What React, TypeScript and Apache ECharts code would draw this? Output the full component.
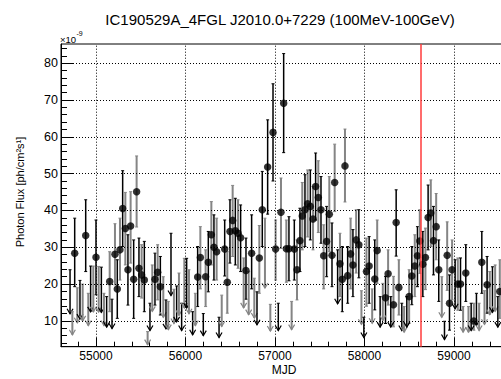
import React, { useEffect, useRef } from "react";
import * as echarts from "echarts";

const TITLE = "IC190529A_4FGL J2010.0+7229 (100MeV-100GeV)";
const Y_NAME = "Photon Flux [ph/cm\u00b2s\u00b9]";
const X_NAME = "MJD";
const X_TICKS = [55000, 56000, 57000, 58000, 59000];
const Y_TICKS = [10, 20, 30, 40, 50, 60, 70, 80];
const EVENT_MJD = 58630;

// detections: MJD, flux (1e-9), upper and lower ends of the error bar
const detMjd = [54762, 54885, 55000, 55153, 55212, 55238, 55268, 55298, 55328, 55357, 55387, 55421, 55454, 55480, 55510, 55540, 55659, 55689, 55719, 56136, 56166, 56225, 56255, 56289, 56318, 56348, 56438, 56467, 56497, 56527, 56557, 56587, 56616, 56676, 56739, 56825, 56858, 56918, 56978, 57007, 57067, 57097, 57127, 57156, 57216, 57246, 57279, 57305, 57335, 57365, 57395, 57425, 57454, 57484, 57514, 57544, 57577, 57607, 57637, 57667, 57726, 57752, 57782, 57812, 57845, 57871, 57907, 57937, 58022, 58052, 58115, 58142, 58235, 58264, 58324, 58354, 58384, 58499, 58529, 58562, 58592, 58618, 58652, 58681, 58711, 58741, 58771, 58801, 58830, 58924, 58950, 58979, 59043, 59073, 59132, 59222, 59311, 59370, 59512];
const detFlux = [28.4, 33.2, 27.3, 20.7, 28.1, 18.7, 29.3, 40.5, 35.1, 23.9, 35.8, 21.3, 45.1, 24.3, 22.5, 21.1, 21.3, 23.2, 19.3, 21.9, 27.2, 22.0, 25.9, 33.4, 30.0, 28.8, 29.5, 20.5, 34.3, 37.3, 34.5, 33.8, 32.6, 23.7, 28.4, 27.1, 40.2, 51.8, 61.2, 29.5, 39.5, 69.1, 29.6, 29.6, 29.5, 23.9, 31.8, 38.5, 40.2, 41.8, 41.1, 37.7, 46.5, 43.5, 40.2, 27.7, 31.6, 39.0, 27.8, 47.6, 25.5, 21.3, 52.1, 22.3, 28.2, 25.2, 32.0, 30.7, 23.4, 24.9, 21.4, 29.1, 16.3, 22.8, 14.4, 36.7, 19.1, 16.6, 22.2, 24.9, 27.7, 31.7, 25.4, 27.2, 38.1, 39.3, 31.8, 35.6, 23.9, 27.8, 14.8, 23.9, 20.0, 20.0, 23.0, 10.0, 25.9, 19.8, 18.0];
const detHigh = [37.9, 42.9, 37.4, 28.8, 36.4, 26.6, 37.9, 50.8, 44.9, 33.4, 45.1, 32.0, 54.8, 32.5, 30.7, 31.6, 28.4, 30.7, 27.5, 30.2, 35.6, 29.3, 34.3, 42.4, 38.8, 37.9, 37.4, 28.8, 42.9, 46.8, 43.3, 42.9, 41.5, 32.5, 38.8, 35.9, 50.6, 64.6, 74.4, 37.4, 48.8, 82.6, 37.4, 38.3, 37.4, 32.0, 40.6, 47.6, 49.7, 51.0, 51.0, 46.5, 55.6, 53.5, 49.2, 36.1, 41.1, 49.2, 36.6, 58.0, 33.8, 30.2, 62.1, 30.2, 37.9, 34.8, 40.2, 40.2, 32.5, 32.9, 32.0, 37.4, 22.1, 29.3, 22.1, 45.6, 26.6, 23.9, 30.2, 33.4, 35.6, 40.2, 34.3, 35.2, 46.9, 48.3, 41.1, 44.6, 32.0, 36.9, 22.5, 32.0, 27.1, 27.1, 30.7, 14.8, 34.3, 27.5, 26.6];
const detLow = [19.3, 23.4, 17.1, 12.5, 19.8, 10.7, 21.1, 30.2, 25.2, 14.3, 25.7, 10.7, 35.5, 16.6, 16.2, 12.5, 14.3, 15.7, 11.6, 13.9, 18.7, 13.9, 17.9, 25.2, 21.1, 21.1, 22.2, 12.1, 25.7, 27.5, 25.2, 24.3, 23.4, 15.9, 18.7, 17.5, 30.2, 39.0, 48.0, 21.1, 29.7, 55.7, 20.5, 20.9, 21.1, 15.7, 23.4, 29.3, 30.2, 32.8, 32.0, 29.3, 37.4, 34.0, 31.1, 18.7, 22.0, 28.8, 19.3, 39.7, 16.6, 12.5, 42.3, 14.8, 18.7, 16.6, 23.0, 21.7, 14.0, 14.8, 13.0, 20.2, 9.3, 14.3, 8.4, 27.6, 11.6, 9.3, 14.4, 16.6, 19.3, 22.9, 16.6, 18.5, 29.3, 30.2, 22.5, 26.6, 15.3, 18.3, 7.5, 15.7, 12.9, 12.9, 15.3, 7.5, 17.5, 12.1, 10.7];

// upper limits: MJD, flux upper limit (1e-9)
const ulMjd = [54710, 54736, 54791, 54821, 54851, 54914, 54940, 54970, 55030, 55060, 55089, 55119, 55179, 55577, 55603, 55629, 55752, 55782, 55808, 55838, 55871, 55901, 55927, 55957, 55987, 56013, 56039, 56080, 56110, 56199, 56375, 56405, 56650, 56706, 56769, 56799, 56888, 56948, 57037, 57186, 57700, 57966, 57993, 58086, 58175, 58205, 58294, 58417, 58443, 58473, 58864, 58894, 59013, 59102, 59162, 59192, 59251, 59281, 59341, 59400, 59430, 59460, 59490];
const ulFlux = [23.9, 12.5, 19.0, 21.0, 20.0, 17.5, 24.9, 24.9, 24.8, 24.6, 17.5, 16.6, 15.9, 7.1, 14.8, 25.2, 22.0, 15.7, 15.3, 33.8, 18.6, 19.5, 23.0, 14.8, 27.0, 27.0, 23.9, 12.5, 17.5, 12.0, 11.0, 17.0, 27.1, 23.4, 21.6, 17.9, 37.9, 14.5, 14.8, 15.3, 29.3, 18.2, 11.0, 18.7, 16.6, 20.2, 16.6, 14.8, 13.9, 16.6, 22.0, 9.9, 26.6, 13.9, 13.9, 14.8, 17.5, 14.8, 18.2, 23.4, 24.7, 25.2, 16.6];

const XMIN = 54609;
const XMAX = 59626;
const YMIN = 3.0;
const YMAX = 85.2;

const FONT = "'Liberation Sans', Arial, Helvetica, sans-serif";
const BLACK = "#000000";
const GREY = "#858585";

function steps(a: number, b: number, s: number) {
  const out: number[] = [];
  for (let v = a; v <= b + 1e-9; v += s) out.push(Math.round(v * 1000) / 1000);
  return out;
}

export default function App() {
  const ref = useRef<HTMLDivElement>(null);
  useEffect(() => {
    if (!ref.current) return;
    const chart = echarts.init(ref.current, undefined, { renderer: "svg" });

    // alternate bar shades through all bins in time order
    const all = [
      ...detMjd.map((m, i) => ({ m, k: "d", i })),
      ...ulMjd.map((m, i) => ({ m, k: "u", i })),
    ].sort((a, b) => a.m - b.m);
    const detShade: number[] = new Array(detMjd.length).fill(0);
    const ulShade: number[] = new Array(ulMjd.length).fill(0);
    all.forEach((e, j) => {
      if (e.k === "d") detShade[e.i] = j % 2;
      else ulShade[e.i] = j % 2;
    });

    const detData = detMjd.map((m, i) => [m, detFlux[i], detHigh[i], detLow[i], detShade[i]]);
    const ulData = ulMjd.map((m, i) => [m, ulFlux[i], ulShade[i]]);
    const pointData = detMjd.map((m, i) => [m, detFlux[i]]);

    const xMinor = steps(54800, 59600, 200);
    const yMinor = steps(4, 84, 2);

    const option: any = {
      animation: false,
      backgroundColor: "#fff",
      grid: {
        left: 61,
        top: 44,
        width: 449,
        height: 302.7,
        show: true,
        borderColor: "#000",
        borderWidth: 1,
        backgroundColor: "transparent",
      },
      xAxis: [
        {
          type: "value",
          min: XMIN,
          max: XMAX,
          position: "bottom",
          axisLine: { show: true, onZero: false, lineStyle: { color: "#000", width: 1 } },
          axisTick: { show: true, inside: true, length: 9, customValues: X_TICKS, lineStyle: { color: "#000", width: 1 } },
          axisLabel: {
            show: true,
            customValues: X_TICKS,
            margin: 3,
            lineHeight: 12,
            formatter: (v: number) => String(Math.round(v)),
            color: "#000",
            fontFamily: FONT,
            fontSize: 12,
          },
          splitLine: { show: false },
        },
        {
          type: "value",
          min: XMIN,
          max: XMAX,
          position: "bottom",
          axisLine: { show: false },
          axisTick: { show: true, inside: true, length: 5, customValues: xMinor, lineStyle: { color: "#000", width: 1 } },
          axisLabel: { show: false },
          splitLine: { show: false },
        },
      ],
      yAxis: [
        {
          type: "value",
          min: YMIN,
          max: YMAX,
          position: "left",
          axisLine: { show: true, onZero: false, lineStyle: { color: "#000", width: 1 } },
          axisTick: { show: true, inside: true, length: 12, customValues: Y_TICKS, lineStyle: { color: "#000", width: 1 } },
          axisLabel: {
            show: true,
            customValues: Y_TICKS,
            margin: 3,
            formatter: (v: number) => String(Math.round(v)),
            color: "#000",
            fontFamily: FONT,
            fontSize: 12.5,
          },
          splitLine: { show: false },
        },
        {
          type: "value",
          min: YMIN,
          max: YMAX,
          position: "left",
          axisLine: { show: false },
          axisTick: { show: true, inside: true, length: 6, customValues: yMinor, lineStyle: { color: "#000", width: 1 } },
          axisLabel: { show: false },
          splitLine: { show: false },
        },
      ],
      graphic: [
        {
          type: "text",
          x: 280,
          y: 19.5,
          style: { text: TITLE, font: `15px ${FONT}`, fill: "#000", textAlign: "center", textVerticalAlign: "middle" },
        },
        {
          type: "text",
          x: 60,
          y: 39,
          style: { text: "\u00d710", font: `9.5px ${FONT}`, fill: "#000", textAlign: "left", textVerticalAlign: "middle" },
        },
        {
          type: "text",
          x: 76.5,
          y: 33.5,
          style: { text: "-9", font: `7px ${FONT}`, fill: "#000", textAlign: "left", textVerticalAlign: "middle" },
        },
        {
          type: "text",
          x: 20,
          y: 192,
          rotation: Math.PI / 2,
          style: { text: Y_NAME, font: `11px ${FONT}`, fill: "#000", textAlign: "center", textVerticalAlign: "middle" },
        },
        {
          type: "text",
          x: 284,
          y: 370,
          style: { text: X_NAME, font: `12px ${FONT}`, fill: "#000", textAlign: "center", textVerticalAlign: "middle" },
        },
      ],
      series: [
        {
          type: "custom",
          name: "errors",
          clip: true,
          z: 2,
          data: detData,
          renderItem: (params: any, api: any) => {
            const x = api.value(0);
            const p = api.coord([x, api.value(1)]);
            const pt = api.coord([x, api.value(2)]);
            const pb = api.coord([x, api.value(3)]);
            const shade = api.value(4);
            const c = shade ? GREY : BLACK;
            const w = shade ? 2 : 1.5;
            return {
              type: "group",
              children: [
                { type: "line", shape: { x1: p[0], y1: pt[1], x2: p[0], y2: pb[1] }, style: { stroke: c, lineWidth: w } },
                { type: "line", shape: { x1: p[0] - 1.5, y1: pt[1], x2: p[0] + 1.5, y2: pt[1] }, style: { stroke: c, lineWidth: 1 } },
                { type: "line", shape: { x1: p[0] - 1.5, y1: pb[1], x2: p[0] + 1.5, y2: pb[1] }, style: { stroke: c, lineWidth: 1 } },
              ],
            };
          },
          markLine: {
            silent: true,
            symbol: "none",
            label: { show: false },
            lineStyle: { color: "#000", width: 1, type: [1, 2] },
            data: [...Y_TICKS.map((v) => ({ yAxis: v })), ...X_TICKS.map((v) => ({ xAxis: v }))],
          },
        },
        {
          type: "custom",
          name: "upper limits",
          clip: true,
          z: 2,
          data: ulData,
          renderItem: (params: any, api: any) => {
            const x = api.value(0);
            const ul = api.value(1);
            const pt = api.coord([x, ul]);
            const pb = api.coord([x, ul * 0.5]);
            const shade = api.value(2);
            const c = shade ? GREY : BLACK;
            const w = shade ? 2 : 1.5;
            return {
              type: "group",
              children: [
                { type: "line", shape: { x1: pt[0], y1: pt[1], x2: pt[0], y2: pb[1] }, style: { stroke: c, lineWidth: w } },
                { type: "line", shape: { x1: pt[0] - 1.5, y1: pt[1], x2: pt[0] + 1.5, y2: pt[1] }, style: { stroke: c, lineWidth: 1 } },
                {
                  type: "polyline",
                  shape: { points: [[pb[0] - 3, pb[1] - 5], [pb[0], pb[1]], [pb[0] + 3, pb[1] - 5]] },
                  style: { stroke: c, lineWidth: 1.2, fill: "none" },
                },
              ],
            };
          },
        },
        {
          type: "scatter",
          name: "flux",
          z: 4,
          symbol: "circle",
          symbolSize: 7.5,
          itemStyle: { color: "#000" },
          data: pointData,
          markLine: {
            silent: true,
            symbol: "none",
            label: { show: false },
            lineStyle: { color: "#ff3b3b", width: 1.5, type: "solid" },
            data: [{ xAxis: EVENT_MJD }],
          },
        },
      ],
    };
    chart.setOption(option);
    return () => chart.dispose();
  }, []);

  return (
    <div style={{ position: "fixed", left: 0, top: 0, width: 501, height: 379, overflow: "hidden", background: "#fff" }}>
      <div ref={ref} style={{ width: 512, height: 379 }} />
    </div>
  );
}
